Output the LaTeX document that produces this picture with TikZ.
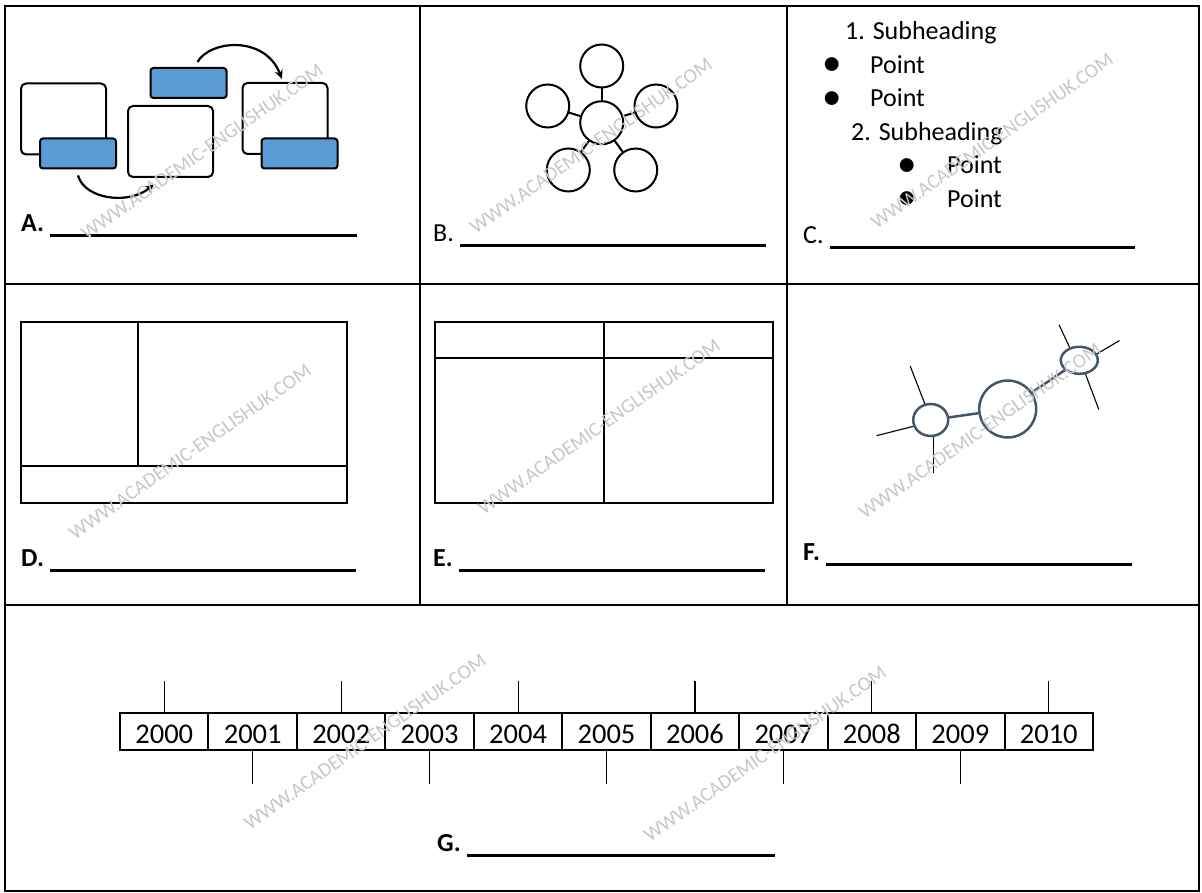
\documentclass[tikz,border=0pt]{standalone}
\usepackage{fontspec}
\setmainfont{Carlito}
\usetikzlibrary{shapes,arrows.meta}
\definecolor{tabblue}{HTML}{5B9BD5}
\definecolor{slate}{HTML}{44546A}
\newcommand{\blank}[1]{\rule[-5.5pt]{#1pt}{3pt}}
\newcommand{\pointdot}{\raisebox{-2.5pt}{\scalebox{1.5}{•}}}

\begin{document}
\begin{tikzpicture}[x=1pt,y=-1pt]
    \tikzstyle{frame} = [draw, line width=2pt, fill=white, rounded corners=5pt, minimum width=85pt, minimum height=71pt]
    \tikzstyle{tab} = [draw, line width=2pt, fill=tabblue, rounded corners=3pt, minimum width=76pt, minimum height=30pt]
    \tikzstyle{petal} = [draw, circle, line width=2pt, minimum size=43pt, inner sep=0pt]
    \tikzstyle{knot} = [draw=slate, ellipse, line width=2.5pt, inner sep=0pt]
    \tikzstyle{spoke} = [line width=1.1pt]
    \tikzstyle{flow} = [line width=2.2pt, -{Stealth[length=9pt,width=8pt]}]
    \tikzstyle{lbl} = [anchor=base west, inner sep=0pt, font=\fontsize{26}{31}\selectfont]
    \tikzstyle{wmark} = [rotate=35, text=black!22, font=\fontsize{20}{24}\selectfont]

    \useasboundingbox (0,0) rectangle (1202,893);

    % grid
    \draw[line width=2pt] (5,6) rectangle (1199,891);
    \draw[line width=2pt] (5,284) -- (1199,284) (5,605) -- (1199,605);
    \draw[line width=2pt] (420,6) -- (420,605) (787,6) -- (787,605);

    % A
    \node[frame] (frameA1) at (63.5,119) {};
    \node[tab] (tabA1) at (78,153.5) {};
    \node[frame] (frameA2) at (170.5,141.5) {};
    \node[tab] (tabA2) at (188.5,83) {};
    \node[frame] (frameA3) at (285,118.5) {};
    \node[tab] (tabA3) at (299.5,153.5) {};
    \draw[flow] ([yshift=-6pt]tabA1.south) .. controls (85,200) and (130,205) .. ([xshift=27pt,yshift=-6pt]frameA2.south west);
    \draw[flow] ([xshift=9pt,yshift=5pt]tabA2.north) .. controls (210,40) and (265,35) .. ([xshift=-3pt,yshift=3pt]frameA3.north);
    \node[lbl] (labA) at (21,232) {\textbf{A.} \blank{307}};

    % B
    \node[petal] (hub) at (601.7,122.7) {};
    \node[petal] (petalN) at (601.7,66) {};
    \node[petal] (petalW) at (547.7,106) {};
    \node[petal] (petalE) at (656,106) {};
    \node[petal] (petalSW) at (568.3,170) {};
    \node[petal] (petalSE) at (635.7,170) {};
    \foreach \p in {N,W,E,SW,SE}
        \draw[line width=2pt] (hub) -- (petal\p);
    \node[lbl] (labB) at (433,242) {B. \blank{306}};

    % C
    \node[lbl] (subA) at (845,40) {1. Subheading};
    \node[lbl] (ptA1) at (822,73.5) {\makebox[48pt][l]{\pointdot}Point};
    \node[lbl] (ptA2) at (822,107) {\makebox[48pt][l]{\pointdot}Point};
    \node[lbl] (subB) at (851,140.5) {2. Subheading};
    \node[lbl] (ptB1) at (897,174) {\makebox[50pt][l]{\pointdot}Point};
    \node[lbl] (ptB2) at (897,207.5) {\makebox[50pt][l]{\pointdot}Point};
    \node[lbl] (labC) at (803,244) {C. \blank{305}};

    % D
    \draw[line width=2pt] (21,322) rectangle (347,503) (138,322) -- (138,466) (21,466) -- (347,466);
    \node[lbl] (labD) at (21,566) {\textbf{D.} \blank{306}};

    % E
    \draw[line width=2pt] (435,322) rectangle (773,503) (604,322) -- (604,503) (435,358) -- (773,358);
    \node[lbl] (labE) at (433,566) {\textbf{E.} \blank{306}};

    % F
    \node[knot, minimum width=35pt, minimum height=32pt] (knotL) at (930.7,420) {};
    \node[knot, circle, minimum size=57pt] (knotM) at (1007.7,409) {};
    \node[knot, minimum width=37pt, minimum height=27pt] (knotR) at (1079.3,360.3) {};
    \draw[slate, line width=2.5pt] (knotL) -- (knotM) -- (knotR);
    \draw[spoke] (knotL.110) -- ++(-14.6,-37.7);
    \draw[spoke] (knotL.200) -- ++(-36.6,9.3);
    \draw[spoke] (knotL.-82) -- ++(0,35.6);
    \draw[spoke] (knotR.127) -- ++(-10.6,-22.7);
    \draw[spoke] (knotR.20) -- ++(22.4,-13.3);
    \draw[spoke] (knotR.-66) -- ++(13.3,35.3);
    \node[lbl] (labF) at (803,560) {\textbf{F.} \blank{306}};

    % G
    \matrix (timeline) at (606.5,731.7) [nodes={draw, line width=2pt, minimum width=88.45pt, minimum height=36.7pt, inner sep=0pt,
        text height=23pt, text depth=0pt, font=\fontsize{28.5}{34}\selectfont},
        column sep=-2pt] {
    \node (y0) {2000}; & \node (y1) {2001}; & \node (y2) {2002}; & \node (y3) {2003}; &
    \node (y4) {2004}; & \node (y5) {2005}; & \node (y6) {2006}; & \node (y7) {2007}; &
    \node (y8) {2008}; & \node (y9) {2009}; & \node (y10) {2010}; \\
    };
    \foreach \i in {0,2,...,10}
        \draw[spoke] (y\i.north) -- ++(0,-31.6);
    \foreach \i in {1,3,...,9}
        \draw[spoke] (y\i.south) -- ++(0,33.3);
    \node[lbl] (labG) at (437,851) {\textbf{G.} \blank{308}};

    % watermark
    \foreach \x/\y [count=\k] in {202/152, 591/146, 992/141, 190/452, 599/427, 980/431, 365/742, 765/754}
        \node[wmark] (mark\k) at (\x,\y) {WWW.ACADEMIC-ENGLISHUK.COM};
\end{tikzpicture}
\end{document}
